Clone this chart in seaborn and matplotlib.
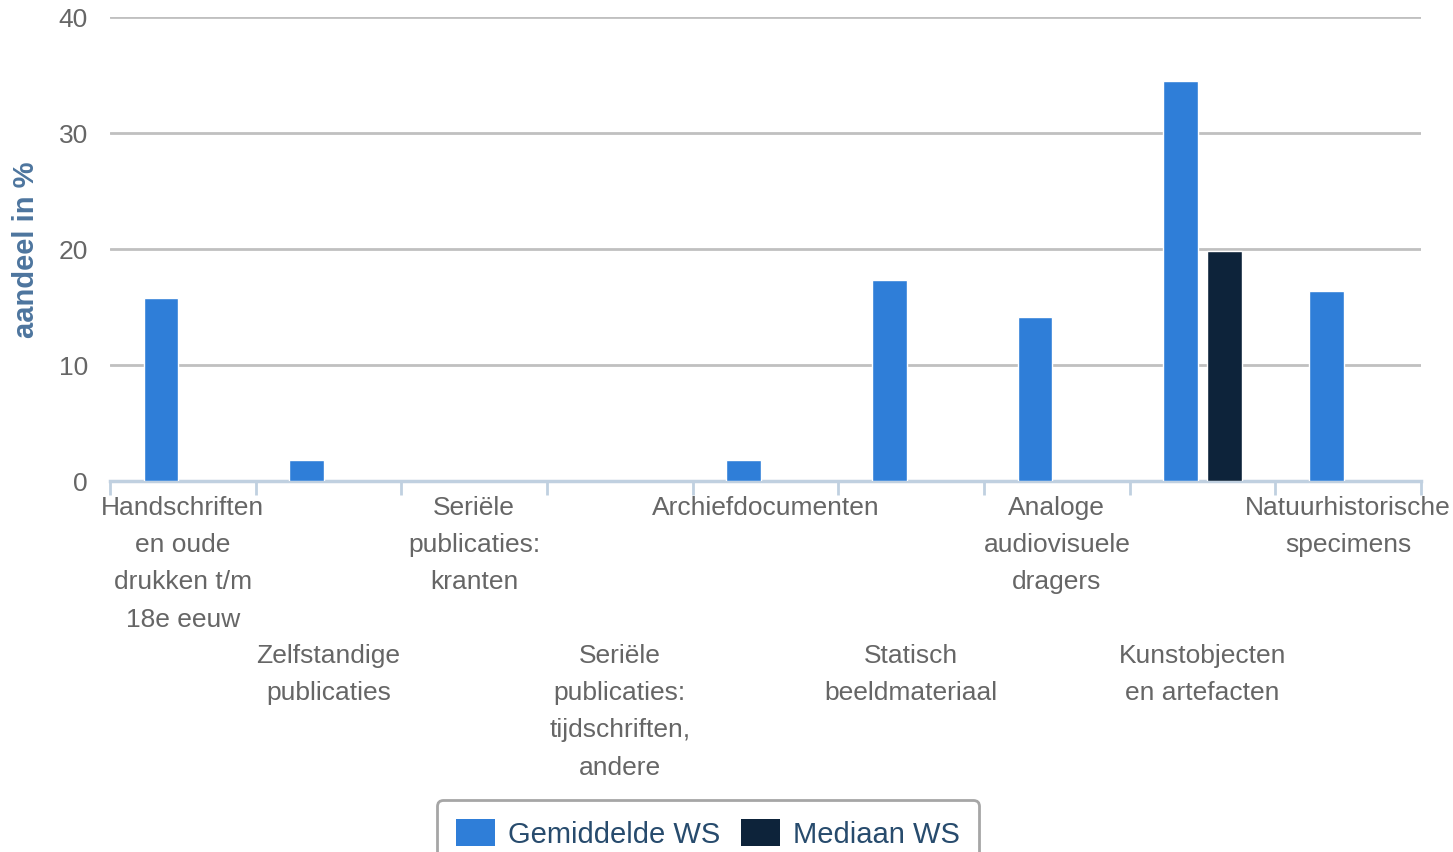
import pandas as pd
import matplotlib.pyplot as plt
import seaborn as sns

# categories (x-axis) and the two series
categories = [
    "Handschriften\nen oude\ndrukken t/m\n18e eeuw",
    "Zelfstandige\npublicaties",
    "Seriële\npublicaties:\nkranten",
    "Seriële\npublicaties:\ntijdschriften,\nandere",
    "Archiefdocumenten",
    "Statisch\nbeeldmateriaal",
    "Analoge\naudiovisuele\ndragers",
    "Kunstobjecten\nen artefacten",
    "Natuurhistorische\nspecimens",
]
gemiddelde = [15.8, 1.8, 0, 0, 1.8, 17.3, 14.1, 34.5, 16.4]
mediaan = [0, 0, 0, 0, 0, 0, 0, 19.8, 0]
series_names = ["Gemiddelde WS", "Mediaan WS"]
y_ticks = [0, 10, 20, 30, 40]

df = pd.DataFrame({
    "categorie": categories * 2,
    "waarde": gemiddelde + mediaan,
    "reeks": [series_names[0]] * len(categories) + [series_names[1]] * len(categories),
})

sns.set_style("white")
plt.rcParams['font.family'] = ['Liberation Sans', 'DejaVu Sans']

colors = {"Gemiddelde WS": "#2f7ed8", "Mediaan WS": "#0d233a"}

fig = plt.figure(figsize=(14.53, 8.53), dpi=100)
ax = fig.add_axes([110 / 1453, 1 - 482 / 853, (1421 - 110) / 1453, (482 - 18) / 853])

sns.barplot(data=df, x="categorie", y="waarde", hue="reeks", palette=colors,
            width=0.6, gap=0.2, edgecolor="white", linewidth=1, saturation=1,
            ax=ax, legend=False, zorder=3)

# zero values are not drawn
for p in ax.patches:
    if p.get_height() == 0:
        p.set_visible(False)

ax.set_ylim(0, 40)
ax.set_xlim(-0.5, len(categories) - 0.5)
ax.set_yticks(y_ticks)
ax.yaxis.grid(True, color="#c0c0c0", linewidth=2, zorder=0)
ax.set_axisbelow(True)
ax.tick_params(axis="y", length=0, labelsize=19, labelcolor="#666666", pad=16)

ax.set_xticks(range(len(categories)))
ax.set_xticklabels(categories, fontsize=19, color="#666666", linespacing=1.7,
                   ha="center", multialignment="center")
ax.tick_params(axis="x", which="major", length=0, pad=10)
# staggered category labels: odd labels on a second row
for tick in ax.xaxis.get_major_ticks()[1::2]:
    tick.set_pad(10 + 148 * 72 / 100)

# minor ticks on category boundaries
ax.set_xticks([i - 0.5 for i in range(len(categories) + 1)], minor=True)
ax.tick_params(axis="x", which="minor", bottom=True, length=10, width=2, color="#c0d0e0")

for side in ["left", "right", "top"]:
    ax.spines[side].set_visible(False)
ax.spines["bottom"].set_color("#c0d0e0")
ax.spines["bottom"].set_linewidth(2.5)

ax.set_xlabel("")
ax.set_ylabel("aandeel in %", fontsize=21, fontweight="bold", color="#4d759e")
ax.yaxis.set_label_coords((40 - 110) / 1311, 0.5)

handles = [plt.Rectangle((0, 0), 1, 1, facecolor=colors[n], edgecolor="none") for n in series_names]
leg = fig.legend(handles, series_names, loc="upper center", bbox_to_anchor=(708 / 1453, 1 - 801 / 853),
                 ncol=2, frameon=True, fontsize=21, handlelength=1.34, handleheight=1.05,
                 handletextpad=0.45, columnspacing=0.72, borderpad=0.65, borderaxespad=0,
                 fancybox=True)
for t in leg.get_texts():
    t.set_color("#274b6d")
leg.get_frame().set_edgecolor("#909090")
leg.get_frame().set_linewidth(2)

fig.savefig("out.png", dpi=100)
